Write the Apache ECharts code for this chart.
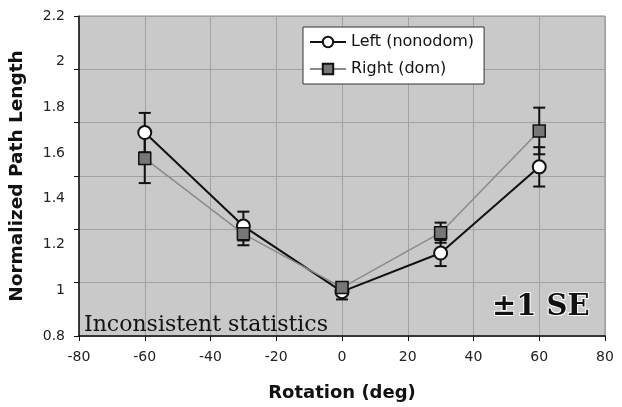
<!DOCTYPE html>
<html>
<head>
<meta charset="utf-8">
<script src="https://cdn.jsdelivr.net/npm/echarts@6/dist/echarts.min.js"></script>
<style>html,body{margin:0;padding:0;background:#fff;overflow:hidden}#c{width:622px;height:407px}</style>
</head>
<body>
<div id="c"></div>
<script>
var rotations = [-60, -30, 0, 30, 60];
var leftMean = [1.69, 1.281, 0.994, 1.163, 1.540];
var leftSE = [0.086, 0.063, 0.034, 0.057, 0.086];
var rightMean = [1.577, 1.247, 1.012, 1.252, 1.697];
var rightSE = [0.108, 0.050, 0.020, 0.044, 0.102];
var yTickLabels = ['0.8', '1', '1.2', '1.4', '1.6', '1.8', '2', '2.2'];
var xTicks = [-80, -60, -40, -20, 0, 20, 40, 60, 80];

function pairs(m) { return rotations.map(function (x, i) { return [x, m[i]]; }); }
function errData(m, e) { return rotations.map(function (x, i) { return [x, m[i] - e[i], m[i] + e[i]]; }); }

function errRender(params, api) {
  var x = api.value(0);
  var lo = api.coord([x, api.value(1)]);
  var hi = api.coord([x, api.value(2)]);
  var w = 6;
  var st = { stroke: '#111', lineWidth: 2 };
  return {
    type: 'group',
    children: [
      { type: 'line', shape: { x1: lo[0], y1: lo[1], x2: hi[0], y2: hi[1] }, style: st },
      { type: 'line', shape: { x1: lo[0] - w, y1: lo[1], x2: lo[0] + w, y2: lo[1] }, style: st },
      { type: 'line', shape: { x1: hi[0] - w, y1: hi[1], x2: hi[0] + w, y2: hi[1] }, style: st }
    ]
  };
}

var chart = echarts.init(document.getElementById('c'), null, { renderer: 'canvas' });
var option = {
  animation: false,
  grid: { left: 78, right: 17, top: 16, bottom: 66, show: true, backgroundColor: '#c9c9c9', borderColor: '#8a8a8a', borderWidth: 1 },
  legend: {
    orient: 'vertical', left: 303, top: 27, padding: [7, 10, 7, 6], itemGap: 11,
    backgroundColor: '#fff', borderColor: '#333', borderWidth: 1,
    itemWidth: 36, itemHeight: 13,
    textStyle: { fontFamily: 'DejaVu Sans', fontSize: 16, color: '#111' },
    data: ['Left (nonodom)', 'Right (dom)']
  },
  xAxis: {
    type: 'value', min: -80, max: 80, interval: 20,
    name: 'Rotation (deg)', nameLocation: 'middle', nameGap: 48,
    nameTextStyle: { fontFamily: 'DejaVu Sans', fontWeight: 'bold', fontSize: 18, color: '#111' },
    axisLine: { onZero: false, lineStyle: { color: '#111', width: 1.5 } },
    axisTick: { show: true, length: 5, lineStyle: { color: '#111' } },
    axisLabel: { fontFamily: 'DejaVu Sans', fontSize: 14, color: '#222', margin: 14,
      formatter: function (v) { return xTicks.indexOf(v) >= 0 ? String(v) : ''; } },
    splitLine: { show: true, lineStyle: { color: '#a2a2a2', width: 1 } }
  },
  yAxis: [
    {
      type: 'value', min: 0.8, max: 2.2, interval: 0.2, position: 'left',
      name: 'Normalized Path Length', nameLocation: 'middle', nameGap: 52,
      nameTextStyle: { fontFamily: 'DejaVu Sans', fontWeight: 'bold', fontSize: 18.5, color: '#111' },
      axisLine: { show: true, onZero: false, lineStyle: { color: '#111', width: 1.5 } },
      axisTick: { show: false },
      axisLabel: { fontFamily: 'DejaVu Sans', fontSize: 14, color: '#222', margin: 14,
        formatter: function (v) { var i = Math.round((v - 0.8) / 0.2); return yTickLabels[i] || ''; } },
      splitLine: { show: false }
    },
    {
      type: 'value', min: 0, max: 6, interval: 1, position: 'left', offset: 0,
      axisLine: { show: false, onZero: false },
      axisTick: { show: true, length: 5, lineStyle: { color: '#111' } },
      axisLabel: { show: false },
      splitLine: { show: true, lineStyle: { color: '#a2a2a2', width: 1 } }
    }
  ],
  series: [
    { type: 'custom', name: 'errL', yAxisIndex: 0, renderItem: errRender, data: errData(leftMean, leftSE), z: 2, silent: true },
    { type: 'custom', name: 'errR', yAxisIndex: 0, renderItem: errRender, data: errData(rightMean, rightSE), z: 2, silent: true },
    {
      type: 'line', name: 'Left (nonodom)', yAxisIndex: 0, data: pairs(leftMean), z: 3,
      symbol: 'circle', symbolSize: 13,
      lineStyle: { color: '#111', width: 2 },
      itemStyle: { color: '#fff', borderColor: '#111', borderWidth: 2 }
    },
    {
      type: 'line', name: 'Right (dom)', yAxisIndex: 0, data: pairs(rightMean), z: 4,
      symbol: 'rect', symbolSize: 12,
      lineStyle: { color: '#8a8a8a', width: 1.5 },
      itemStyle: { color: '#777', borderColor: '#111', borderWidth: 1.5 }
    }
  ],
  graphic: [
    { type: 'text', left: 84, top: 314, z: 10,
      style: { text: 'Inconsistent statistics', font: '22px "DejaVu Serif"', fill: '#111' } },
    { type: 'text', left: 491, top: 292, z: 10,
      style: { text: '±1 SE', font: 'bold 29px "DejaVu Serif"', fill: '#111', stroke: '#fff', lineWidth: 2 } }
  ]
};
chart.setOption(option);
</script>
</body>
</html>
